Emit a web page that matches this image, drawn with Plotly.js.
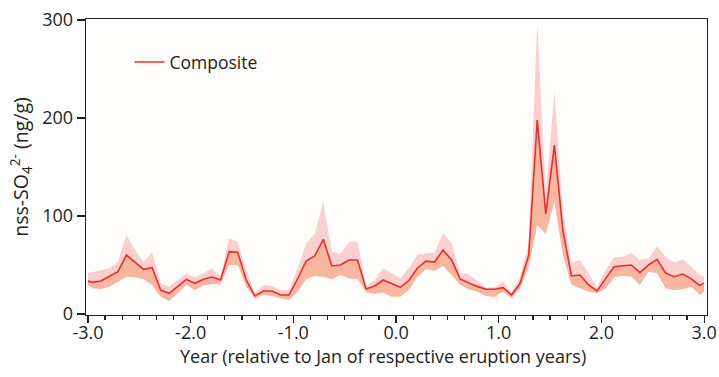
<!DOCTYPE html>
<html>
<head>
<meta charset="utf-8">
<script src="https://cdn.plot.ly/plotly-3.0.1.min.js"></script>
<style>
  html, body { margin: 0; padding: 0; background: #ffffff; }
  #chart { width: 719px; height: 377px; }
</style>
</head>
<body>
<div id="chart"></div>
<script>
// Time relative to Jan of eruption year (years)
const years = [-3.0,
  -2.958, -2.875, -2.792, -2.708, -2.625, -2.542, -2.458, -2.375, -2.292, -2.208, -2.125, -2.042,
  -1.958, -1.875, -1.792, -1.708, -1.625, -1.542, -1.458, -1.375, -1.292, -1.208, -1.125, -1.042,
  -0.958, -0.875, -0.792, -0.708, -0.625, -0.542, -0.458, -0.375, -0.292, -0.208, -0.125, -0.042,
  0.042, 0.125, 0.208, 0.292, 0.375, 0.458, 0.542, 0.625, 0.708, 0.792, 0.875, 0.958,
  1.042, 1.125, 1.208, 1.292, 1.375, 1.458, 1.542, 1.625, 1.708, 1.792, 1.875, 1.958,
  2.042, 2.125, 2.208, 2.292, 2.375, 2.458, 2.542, 2.625, 2.708, 2.792, 2.875, 2.958,
  3.0];

// Composite nss-SO4 (ng/g)
const composite = [33.7,
  32.3, 33.7, 38.0, 43.2, 60.2, 52.7, 45.6, 47.3, 24.5, 21.1, 27.9, 35.4,
  31.3, 35.4, 37.8, 34.7, 63.6, 62.9, 34.7, 18.4, 23.5, 23.5, 19.4, 19.4,
  36.0, 54.1, 59.2, 76.2, 49.0, 50.0, 55.1, 55.1, 25.5, 28.6, 34.7, 30.6,
  27.2, 34.2, 47.0, 54.0, 53.0, 65.3, 55.1, 35.6, 31.8, 28.2, 25.2, 25.2,
  26.9, 19.4, 31.3, 60.2, 198.0, 102.0, 172.4, 85.0, 38.8, 39.8, 29.6, 23.5,
  36.4, 48.3, 49.2, 50.0, 42.2, 50.0, 55.8, 41.8, 38.1, 40.8, 35.9, 29.1,
  31.5];

// Upper bound of uncertainty band
const upper = [41.5,
  42.5, 43.9, 46.6, 53.4, 80.6, 65.3, 53.4, 63.0, 31.3, 27.9, 34.7, 41.5,
  37.4, 41.5, 46.6, 38.1, 77.2, 73.8, 44.9, 21.1, 29.6, 28.6, 24.5, 24.5,
  46.6, 72.1, 81.6, 114.6, 63.6, 61.2, 73.8, 73.8, 28.6, 34.7, 46.6, 41.5,
  36.4, 46.6, 60.2, 61.9, 62.6, 82.3, 72.1, 42.2, 40.5, 33.7, 27.2, 27.2,
  33.0, 21.9, 38.1, 72.1, 298.0, 120.0, 226.9, 105.0, 52.0, 55.0, 41.5, 27.9,
  44.9, 58.0, 58.5, 61.9, 55.1, 56.8, 69.0, 58.5, 52.5, 55.8, 48.3, 39.3,
  38.5];

// Lower bound of uncertainty band
const lower = [29.6,
  26.2, 25.5, 27.9, 33.0, 38.1, 37.4, 35.4, 29.6, 17.7, 13.3, 21.1, 29.6,
  24.5, 29.3, 30.3, 30.6, 50.0, 50.0, 27.9, 16.0, 19.4, 18.4, 16.0, 14.3,
  22.8, 35.4, 38.8, 38.1, 35.4, 39.8, 36.4, 35.4, 22.8, 20.4, 21.8, 17.7,
  17.7, 24.5, 38.1, 45.6, 44.2, 49.0, 39.8, 29.6, 25.2, 22.8, 18.4, 17.4,
  22.8, 16.0, 26.2, 48.0, 90.8, 81.6, 114.6, 60.0, 30.0, 26.2, 22.8, 21.1,
  26.0, 37.4, 38.8, 38.1, 29.6, 43.2, 41.5, 26.2, 24.5, 25.2, 27.9, 19.4,
  22.8];

const xTickVals = [-3, -2.5, -2, -1.5, -1, -0.5, 0, 0.5, 1, 1.5, 2, 2.5, 3];
const xTickText = ['-3.0', '', '-2.0', '', '-1.0', '', '0.0', '', '1.0', '', '2.0', '', '3.0'];
const xTitle = 'Year (relative to Jan of respective eruption years)';
const yTitle = 'nss-SO<sub>4</sub><sup>2-</sup> (ng/g)';

const minorVals = [];
for (let k = 0; k <= 36; k++) minorVals.push(-3 + k / 6);

const FONT = '"Open Sans", "Noto Sans", sans-serif';
const INK = '#231f20';

const traces = [
  { x: years, y: lower, type: 'scatter', mode: 'lines',
    line: { width: 0, color: 'rgba(0,0,0,0)' }, hoverinfo: 'skip', showlegend: false },
  { x: years, y: composite, type: 'scatter', mode: 'lines', fill: 'tonexty',
    fillcolor: 'rgb(246,182,160)', line: { width: 0, color: 'rgba(0,0,0,0)' },
    hoverinfo: 'skip', showlegend: false },
  { x: years, y: upper, type: 'scatter', mode: 'lines', fill: 'tonexty',
    fillcolor: 'rgb(250,208,207)', line: { width: 0, color: 'rgba(0,0,0,0)' },
    hoverinfo: 'skip', showlegend: false },
  { x: years, y: composite, type: 'scatter', mode: 'lines', name: 'Composite',
    line: { width: 1.6, color: 'rgb(226,48,48)' } }
];

const layout = {
  width: 719, height: 377,
  margin: { l: 86, r: 12, t: 19, b: 62 },
  paper_bgcolor: '#ffffff',
  plot_bgcolor: '#fefdfc',
  font: { family: FONT, size: 18, color: INK },
  showlegend: true,
  legend: { x: 0.07, y: 0.915, xanchor: 'left', yanchor: 'top',
    bgcolor: 'rgba(0,0,0,0)', font: { family: FONT, size: 17.5, color: INK } },
  xaxis: {
    range: [-3.019, 3.028],
    showgrid: false, zeroline: false,
    showline: true, mirror: true, linecolor: INK, linewidth: 1.3,
    tickmode: 'array', tickvals: xTickVals, ticktext: xTickText,
    ticks: 'outside', ticklen: 7, tickwidth: 1.2, tickcolor: INK,
    ticklabelstandoff: -6,
    tickfont: { family: FONT, size: 18, color: INK },
    minor: { tickmode: 'array', tickvals: minorVals, ticks: 'outside', ticklen: 4,
      tickwidth: 1.2, tickcolor: INK, showgrid: false }
  },
  yaxis: {
    range: [-1, 301],
    showgrid: false, zeroline: false,
    showline: true, mirror: true, linecolor: INK, linewidth: 1.3,
    tickmode: 'array', tickvals: [0, 100, 200, 300],
    ticks: 'outside', ticklen: 8, tickwidth: 1.2, tickcolor: INK,
    tickfont: { family: FONT, size: 18, color: INK },
    title: { text: yTitle, font: { family: FONT, size: 19.5, color: INK }, standoff: 8 }
  },
  annotations: [{
    text: xTitle, xref: 'paper', yref: 'paper', x: 0.478, y: -0.137,
    xanchor: 'center', yanchor: 'middle', showarrow: false,
    font: { family: FONT, size: 18, color: INK }
  }]
};

Plotly.newPlot('chart', traces, layout, { displayModeBar: false, staticPlot: true });
</script>
</body>
</html>
